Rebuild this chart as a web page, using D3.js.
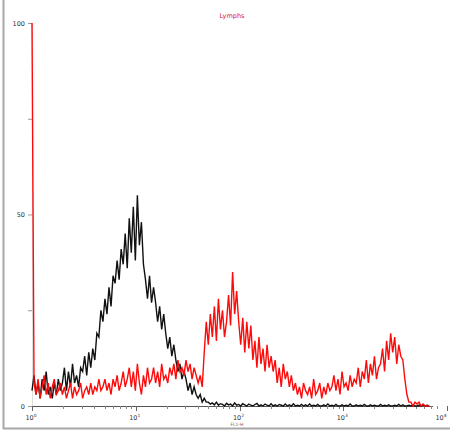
<!DOCTYPE html>
<html><head><meta charset="utf-8">
<script src="https://cdn.jsdelivr.net/npm/d3@7"></script>
<style>body{margin:0;background:#fff}svg{display:block}</style>
</head><body>
<script>
const title = "Lymphs";
const axisLabel = "FL1-H";
const channelsPerDecade = 256;
const channelStep = 5;
const yTickValues = [0, 25, 50, 75, 100];
const yTickLabels = {0: "0", 50: "50", 100: "100"};
const xMajorTicks = [1, 10, 100, 1000, 10000];
const xTickExponents = ["0", "1", "2", "3", "4"];

const blackCounts = [
 4,8,3,6,2,7,4,9,3,5,2,6,3,7,4,
 6,10,4,9,5,11,6,8,5,10,
 9,13,8,14,10,
 15,12,19,
 18,25,22,
 28,24,31,26,34,
 32,38,33,41,
 37,45,36,49,
 40,52,38,55,
 42,48,37,
 33,28,34,27,31,
 27,22,26,20,24,
 19,15,18,13,16,
 12,9,11,7,9,
 7,4,6,3,5,
 3,2,3,1,2,1,
 1,0.5,0.8,0.3,1,0.2,0.6,0.4,0,0.7,
 0.3,0.5,0,0.8,0.2,0.4,0,0.6,0.3,0,
 0.5,0.2,0,0.4,0.7,0,0.3,0,0.5,0.2,
 0,0.6,0,0.3,0,0.4,0.2,0,0.5,0,
 0.3,0,0.6,0,0.2,0,0.4,0,0.3,0,
 0.5,0,0.2,0,0.4,0,0,0.3,0,0.5,
 0,0.2,0,0.4,0,0,0.3,0,0.2,0,
 0.5,0,0,0.3,0,0.2,0,0.4,0,0,
 0.3,0,0.2,0,0,0.4,0,0.2,0,0.3,
 0,0,0.2,0,0.4,0,0.3,0,0,0.2,
 0,0.3,0,0,0.2,0,0.3,0,0.2,0
];

const redCounts = [
 100,
 6,3,7,2,5,8,3,6,2,5,7,3,4,6,
 3,5,2,4,6,2,5,3,4,6,2,4,5,3,6,3,5,4,7,4,
 5,7,4,6,3,7,5,8,4,6,9,5,7,10,
 5,9,4,11,6,3,8,5,10,6,
 7,10,6,9,5,11,7,8,6,10,
 8,11,7,12,9,10,8,12,9,11,7,10,8,
 6,8,5,
 14,22,16,24,
 18,26,17,28,20,25,18,
 22,29,21,35,24,30,22,
 16,23,14,22,15,21,
 12,17,10,18,11,15,9,16,10,13,
 9,12,6,10,5,11,7,9,5,8,
 4,6,3,5,2,6,4,3,5,2,7,3,4,6,2,5,3,6,4,
 5,8,4,7,3,9,5,6,4,8,5,7,
 6,10,5,9,7,12,6,11,8,13,7,10,
 11,15,9,17,12,19,14,18,11,16,13,
 12,7,3,1,
 1,0,1,0.5,1,0,0.5,
 0,0,0
];

const W = 450, H = 432;
const svg = d3.select("body").append("svg").attr("width", W).attr("height", H);

const x = d3.scaleLog().domain([1, 10000]).range([32, 447]);
const y = d3.scaleLinear().domain([0, 100]).range([406, 23]);
const chanVal = i => Math.pow(10, (i * channelStep) / channelsPerDecade);

// outer frame lines
svg.append("line").attr("x1", 3.5).attr("x2", 3.5).attr("y1", 0).attr("y2", 429).attr("stroke", "#a8a8a8").attr("stroke-width", 2);
svg.append("line").attr("x1", 3).attr("x2", 450).attr("y1", 428.5).attr("y2", 428.5).attr("stroke", "#a8a8a8").attr("stroke-width", 2);

// title
svg.append("text").attr("x", 232).attr("y", 18).attr("text-anchor", "middle")
  .attr("font-family", "DejaVu Sans, sans-serif").attr("font-size", 6.5).attr("fill", "#e0103a").text(title);

// y axis
const yAxis = d3.axisLeft(y).tickValues(yTickValues).tickSize(4).tickPadding(3)
  .tickFormat(d => yTickLabels[d] || "");
const gy = svg.append("g").attr("transform", "translate(32,0)").call(yAxis);
gy.select(".domain").attr("stroke", "#ddd");
gy.selectAll(".tick line").attr("stroke", "#999");
gy.selectAll("text").attr("font-family", "DejaVu Sans, sans-serif").attr("font-size", 6.5).attr("fill", "#333");

// x axis
const minorTicks = [];
for (let d = 1; d < 10000; d *= 10) for (let k = 2; k <= 9; k++) minorTicks.push(d * k);
const gx = svg.append("g").attr("transform", "translate(0,406)");
gx.append("line").attr("x1", 32).attr("x2", 433).attr("y1", 0.5).attr("y2", 0.5).attr("stroke", "#555").attr("stroke-width", 1);
gx.selectAll("line.minor").data(minorTicks.filter(v => x(v) <= 440)).join("line").attr("class", "minor")
  .attr("x1", d => Math.round(x(d)) + 0.5).attr("x2", d => Math.round(x(d)) + 0.5)
  .attr("y1", 0).attr("y2", 3).attr("stroke", "#888");
gx.selectAll("line.major").data(xMajorTicks).join("line").attr("class", "major")
  .attr("x1", d => Math.round(x(d)) + 0.5).attr("x2", d => Math.round(x(d)) + 0.5)
  .attr("y1", 0).attr("y2", 5).attr("stroke", "#666");
const lab = gx.selectAll("text.lab").data(xMajorTicks).join("text").attr("class", "lab")
  .attr("x", d => Math.min(x(d) - 1, 441)).attr("y", 14).attr("text-anchor", "middle")
  .attr("font-family", "DejaVu Sans, sans-serif").attr("font-size", 6.5).attr("fill", "#333");
lab.append("tspan").text("10");
lab.append("tspan").attr("dy", -3).attr("font-size", 4.5).text((d, i) => xTickExponents[i]);
gx.append("text").attr("x", 237).attr("y", 20).attr("text-anchor", "middle")
  .attr("font-family", "DejaVu Sans, sans-serif").attr("font-size", 4.5).attr("fill", "#666").text(axisLabel);

// histograms
const line = d3.line().x((d, i) => x(chanVal(i))).y(d => y(Math.min(d, 100)));
svg.append("path").datum(blackCounts).attr("d", line).attr("fill", "none")
  .attr("stroke", "#111").attr("stroke-width", 1.4);
svg.append("path").datum(redCounts).attr("d", line).attr("fill", "none")
  .attr("stroke", "#ff0a0a").attr("stroke-width", 1.4);
</script>
</body></html>
